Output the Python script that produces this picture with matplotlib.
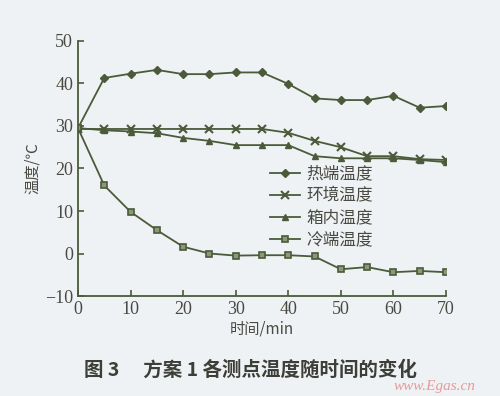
import numpy as np
import matplotlib
matplotlib.use('Agg')
import matplotlib.pyplot as plt

plt.rcParams['font.family'] = ['Liberation Serif', 'Noto Sans CJK SC', 'DejaVu Sans']

# ==================== 数据 ====================
t = [0, 5, 10, 15, 20, 25, 30, 35, 40, 45, 50, 55, 60, 65, 70]
hot = [29.5, 41.3, 42.3, 43.2, 42.2, 42.2, 42.6, 42.6, 39.9, 36.5, 36.1, 36.1, 37.1, 34.3, 34.7]
env = [29.3, 29.3, 29.3, 29.3, 29.3, 29.3, 29.3, 29.3, 28.4, 26.5, 25.0, 22.9, 22.9, 22.2, 22.0]
box = [29.5, 29.0, 28.7, 28.3, 27.2, 26.5, 25.5, 25.5, 25.5, 22.9, 22.4, 22.4, 22.4, 22.0, 21.5]
cold = [29.5, 16.0, 9.8, 5.5, 1.6, 0.0, -0.5, -0.4, -0.4, -0.7, -3.7, -3.2, -4.4, -4.1, -4.4]
labels = ['热端温度', '环境温度', '箱内温度', '冷端温度']

bg = '#eef2f4'
lc = '#4b5a3a'
tc = '#4a4a42'

fig = plt.figure(figsize=(5, 3.96), dpi=100, facecolor=bg)
ax = fig.add_axes([0.156, 0.2525, 0.736, 0.644], facecolor=bg)

ax.plot(t, hot, '-', color=lc, lw=1.3, marker='D', ms=3.8, mfc=lc, mec=lc, label=labels[0])
ax.plot(t, env, '-', color=lc, lw=1.3, marker='x', ms=5.5, mew=1.5, mec=lc, label=labels[1])
ax.plot(t, box, '-', color=lc, lw=1.3, marker='^', ms=5, mfc=lc, mec=lc, label=labels[2])
ax.plot(t, cold, '-', color=lc, lw=1.3, marker='s', ms=5, mfc='#8a9a78', mec=lc, mew=1.2, label=labels[3])

ax.set_xlim(0, 70)
ax.set_ylim(-10, 50)
ax.set_xticks(np.arange(0, 71, 10))
ax.set_yticks(np.arange(-10, 51, 10))
ax.spines['top'].set_visible(False)
ax.spines['right'].set_visible(False)
for s in ['left', 'bottom']:
    ax.spines[s].set_color(lc)
    ax.spines[s].set_linewidth(1.3)
ax.tick_params(direction='in', length=4, width=1.2, color=lc, labelsize=13, labelcolor=tc)
for lab in ax.get_xticklabels() + ax.get_yticklabels():
    lab.set_fontfamily('Liberation Serif')

ax.set_ylabel('温度/℃', fontsize=11, color=tc, family=['Noto Sans CJK SC', 'DejaVu Sans'])
ax.yaxis.set_label_coords(-0.1, 0.5)
ax.set_xlabel('时间/min', fontsize=11, color=tc, family=['Noto Sans CJK SC', 'Liberation Serif'], labelpad=2)

leg = ax.legend(loc='upper left', bbox_to_anchor=(0.48, 0.57), frameon=False,
                prop={'family': ['Noto Sans CJK SC'], 'size': 12},
                handlelength=1.8, handletextpad=0.4, labelspacing=0.3)
for txt in leg.get_texts():
    txt.set_color(tc)

fig.text(0.5, 0.065, '图 3　 方案 1 各测点温度随时间的变化', ha='center', va='center',
         fontsize=14, fontweight='bold', color='#3e3e38', family=['Noto Sans CJK SC'])
fig.text(0.87, 0.025, 'www.Egas.cn', ha='center', va='center', fontsize=11,
         style='italic', color='#e89a9a', family=['Liberation Serif'])

plt.savefig('out.png', dpi=100, facecolor=bg)
